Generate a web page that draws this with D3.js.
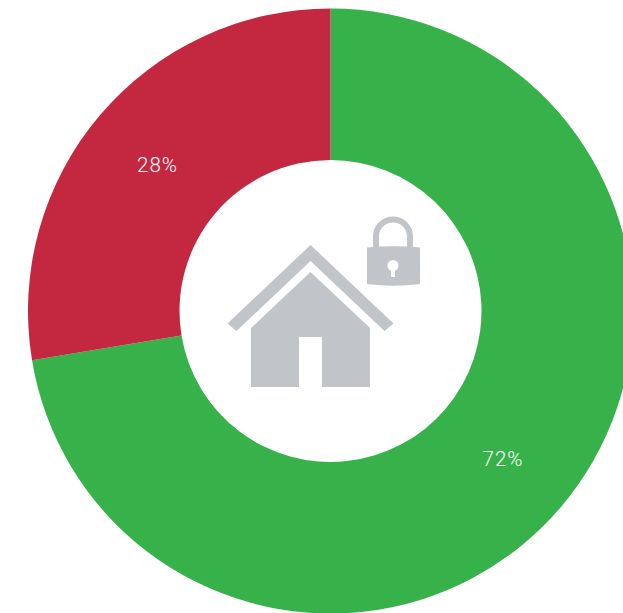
<!DOCTYPE html>
<html><head><meta charset="utf-8"><script src="https://cdn.jsdelivr.net/npm/d3@7"></script>
<style>html,body{margin:0;padding:0;background:#fff;overflow:hidden}svg{display:block}</style></head>
<body><svg id="c" width="623" height="613"></svg>
<script>
const categories=["Secure","Not secure"];
const values=[72.4,27.6];
const colors=["#37b24a","#c42840"];
const labels=["72%","28%"];
const svg=d3.select("#c");
const g=svg.append("g").attr("transform","translate(330.5,311)");
const pie=d3.pie().sort(null).value(d=>d)(values);
const arc=d3.arc().innerRadius(151).outerRadius(302.5);
g.selectAll("path").data(pie).join("path").attr("d",arc).attr("fill",(d,i)=>colors[i]);
const lp=[[172.5,147.5],[-173,-146.5]];
g.selectAll("text").data(pie).join("text").attr("x",(d,i)=>lp[i][0]).attr("y",(d,i)=>lp[i][1]).attr("text-anchor","middle").attr("dy","0.36em").attr("fill","#fff").attr("font-family","Roboto, Lato, sans-serif").attr("font-weight",300).attr("letter-spacing","1px").attr("font-size",20.5).text((d,i)=>labels[i]);
const ic=svg.append("g").attr("fill","#c1c4c9");
ic.append("path").attr("d","M251 328L310.5 272L370 328V387H322V337H299V387H251Z");
ic.append("path").attr("d","M227.5 323.5L310.5 245L393.5 323.5L384.5 331L310.5 261L236.5 331Z");
ic.append("path").attr("d","M367 247.5Q393.5 245 420 247.5V284Q393.5 287.5 367 284Z");
ic.append("path").attr("d","M376 248V236.5A17 17 0 0 1 410 236.5V248").attr("fill","none").attr("stroke","#c1c4c9").attr("stroke-width",6);
ic.append("circle").attr("cx",393).attr("cy",265.5).attr("r",5.5).attr("fill","#fff");
ic.append("rect").attr("x",391).attr("y",266).attr("width",4).attr("height",11).attr("fill","#fff");
</script></body></html>
